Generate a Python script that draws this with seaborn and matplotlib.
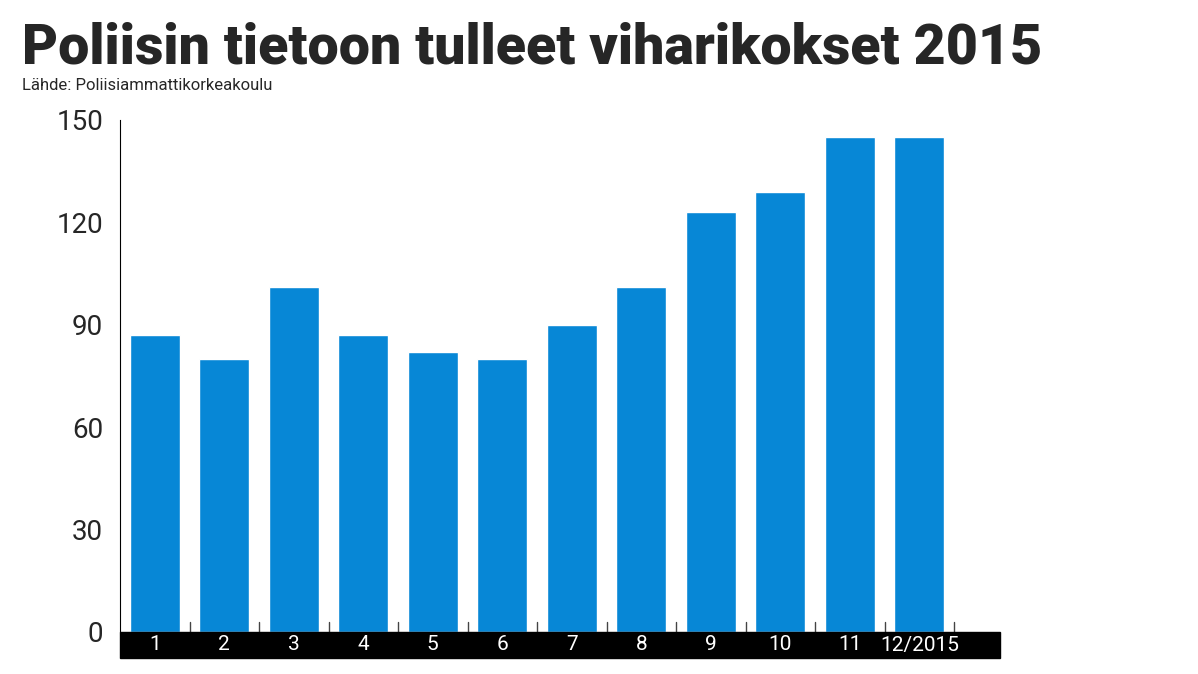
import matplotlib
matplotlib.use("Agg")
import matplotlib.pyplot as plt
import seaborn as sns
import pandas as pd
from matplotlib.patches import Rectangle

# Data
months = ["1", "2", "3", "4", "5", "6", "7", "8", "9", "10", "11", "12/2015"]
crimes = [87, 80, 101, 87, 82, 80, 90, 101, 123, 129, 145, 145]
df = pd.DataFrame({"month": months, "crimes": crimes})

sns.set_style("white")
plt.rcParams["font.family"] = ["Roboto", "DejaVu Sans"]

fig = plt.figure(figsize=(11.98, 6.74), dpi=100)
ax = fig.add_axes([120 / 1198, 42 / 674, 880 / 1198, 512 / 674])

sns.barplot(data=df, x="month", y="crimes", color="#0787d6", width=0.72,
            saturation=1, ax=ax)

ax.set_xlim(-0.5, 12.16)
ax.set_ylim(0, 150)
ax.set_yticks([0, 30, 60, 90, 120, 150])
ax.tick_params(axis="y", direction="in", length=20, width=1, labelsize=20, pad=12)
ax.set_xticks([])
ax.set_xlabel("")
ax.set_ylabel("")
for s in ["top", "right", "bottom"]:
    ax.spines[s].set_visible(False)
ax.spines["left"].set_color("black")

# black band with month labels
band_h = 26 / 512
ax.add_patch(Rectangle((0, -band_h), 1, band_h, transform=ax.transAxes,
                       color="black", clip_on=False, zorder=3))
trans = ax.get_xaxis_transform()
for i, m in enumerate(months):
    ax.text(i, -band_h / 2, m, transform=trans, color="white", fontsize=15,
            ha="center", va="center", zorder=4, clip_on=False)
for i in range(len(months)):
    ax.plot([i + 0.5, i + 0.5], [0, 10 / 512], transform=trans,
            color="#444444", lw=1, clip_on=False)

fig.text(22 / 1198, 1 - 48 / 674, "Poliisin tietoon tulleet viharikokset 2015",
         fontsize=40, fontweight="black", va="center", ha="left")
fig.text(22 / 1198, 1 - 85 / 674, "Lähde: Poliisiammattikorkeakoulu",
         fontsize=12, va="center", ha="left")

fig.savefig("out.png", dpi=100)
